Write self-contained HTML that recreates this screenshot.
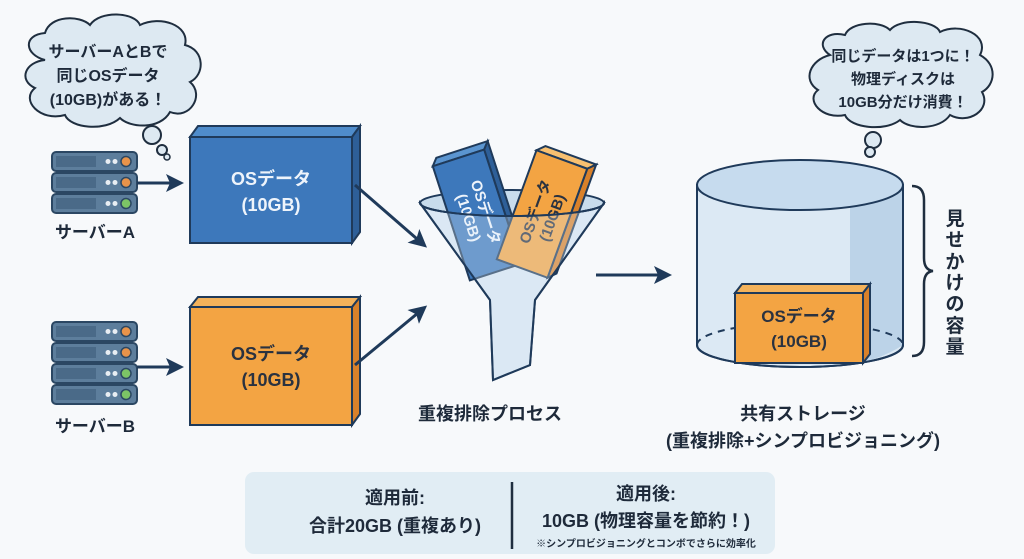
<!DOCTYPE html>
<html><head><meta charset="utf-8"><style>
html,body{margin:0;padding:0;background:#f7f9fb;}
svg{display:block;}
text{font-family:"Liberation Sans","Noto Sans CJK JP",sans-serif;font-weight:bold;fill:#1e2a3a;}
</style></head><body>
<svg width="1024" height="559" viewBox="0 0 1024 559" xmlns="http://www.w3.org/2000/svg">
<defs>
<marker id="ah2" markerWidth="18" markerHeight="18" refX="14" refY="9" orient="auto" markerUnits="userSpaceOnUse">
<path d="M0,0 L18,9 L0,18 L4,9 Z" fill="#1f3a5a"/></marker>
<g id="unit">
<rect x="0" y="0" width="85" height="19" rx="4" fill="#5d7e9c" stroke="#2b4763" stroke-width="2"/>
<rect x="4" y="4" width="40" height="11" fill="#4a6a88"/>
<circle cx="56" cy="9.5" r="2.5" fill="#e9eef3"/><circle cx="63" cy="9.5" r="2.5" fill="#e9eef3"/>
</g>
</defs>
<rect width="1024" height="559" fill="#f7f9fb"/>

<!-- left cloud -->
<path d="M45,60 C25,55 22,35 45,33 C50,15 80,15 90,25 C100,10 135,12 140,25 C160,15 190,25 185,45 C205,50 205,75 190,82 C205,95 190,120 170,112 C160,130 130,128 120,118 C105,132 70,128 65,115 C40,122 20,100 35,88 C18,80 25,62 45,60 Z" fill="#dde9f2" stroke="#1f2e3f" stroke-width="2"/>
<circle cx="152" cy="135" r="9" fill="#dde9f2" stroke="#1f2e3f" stroke-width="2"/>
<circle cx="162" cy="150" r="5" fill="#dde9f2" stroke="#1f2e3f" stroke-width="2"/>
<circle cx="167" cy="157" r="3" fill="#dde9f2" stroke="#1f2e3f" stroke-width="1.5"/>
<text x="108" y="57" font-size="16" text-anchor="middle">サーバーAとBで</text>
<text x="108" y="81" font-size="16" text-anchor="middle">同じOSデータ</text>
<text x="108" y="105" font-size="16" text-anchor="middle">(10GB)がある！</text>

<!-- server A -->
<use href="#unit" x="52" y="152"/><circle cx="126" cy="161.5" r="5" fill="#e8934a" stroke="#2b4763" stroke-width="1.5"/>
<use href="#unit" x="52" y="173"/><circle cx="126" cy="182.5" r="5" fill="#e8934a" stroke="#2b4763" stroke-width="1.5"/>
<use href="#unit" x="52" y="194"/><circle cx="126" cy="203.5" r="5" fill="#7cc466" stroke="#2b4763" stroke-width="1.5"/>
<text x="95" y="238" font-size="17" text-anchor="middle">サーバーA</text>
<line x1="137" y1="183" x2="180" y2="183" stroke="#1f3a5a" stroke-width="3" marker-end="url(#ah2)"/>

<!-- blue box -->
<path d="M190,137 L198,126 L360,126 L352,137 Z" fill="#4f8ccb" stroke="#1f3a5a" stroke-width="2"/>
<path d="M352,137 L360,126 L360,232 L352,243 Z" fill="#2e5f98" stroke="#1f3a5a" stroke-width="2"/>
<rect x="190" y="137" width="162" height="106" fill="#3d78bb" stroke="#1f3a5a" stroke-width="2"/>
<text x="271" y="185" font-size="18" text-anchor="middle" style="fill:#eef4fb">OSデータ</text>
<text x="271" y="211" font-size="18" text-anchor="middle" style="fill:#eef4fb">(10GB)</text>

<!-- server B -->
<use href="#unit" x="52" y="322"/><circle cx="126" cy="331.5" r="5" fill="#e8934a" stroke="#2b4763" stroke-width="1.5"/>
<use href="#unit" x="52" y="343"/><circle cx="126" cy="352.5" r="5" fill="#e8934a" stroke="#2b4763" stroke-width="1.5"/>
<use href="#unit" x="52" y="364"/><circle cx="126" cy="373.5" r="5" fill="#7cc466" stroke="#2b4763" stroke-width="1.5"/>
<use href="#unit" x="52" y="385"/><circle cx="126" cy="394.5" r="5" fill="#7cc466" stroke="#2b4763" stroke-width="1.5"/>
<text x="95" y="432" font-size="17" text-anchor="middle">サーバーB</text>
<line x1="137" y1="367" x2="180" y2="367" stroke="#1f3a5a" stroke-width="3" marker-end="url(#ah2)"/>

<!-- orange box -->
<path d="M190,307 L198,297 L360,297 L352,307 Z" fill="#f4b25a" stroke="#1f3a5a" stroke-width="2"/>
<path d="M352,307 L360,297 L360,414 L352,425 Z" fill="#d9812a" stroke="#1f3a5a" stroke-width="2"/>
<rect x="190" y="307" width="162" height="118" fill="#f3a443" stroke="#1f3a5a" stroke-width="2"/>
<text x="271" y="360" font-size="18" text-anchor="middle" style="fill:#2a3240">OSデータ</text>
<text x="271" y="386" font-size="18" text-anchor="middle" style="fill:#2a3240">(10GB)</text>

<!-- arrows to funnel -->
<line x1="355" y1="185" x2="424" y2="245" stroke="#1f3a5a" stroke-width="3" marker-end="url(#ah2)"/>
<line x1="355" y1="365" x2="424" y2="308" stroke="#1f3a5a" stroke-width="3" marker-end="url(#ah2)"/>

<!-- funnel back -->
<path d="M420,203 L490,300 L493,380 L530,365 L535,300 L604,203 Z" fill="#d5e5f2" stroke="#1f3a5a" stroke-width="2" opacity="0.9"/>
<ellipse cx="512" cy="203" rx="92" ry="13" fill="#c8dcec" stroke="#1f3a5a" stroke-width="2"/>

<!-- blocks in funnel -->
<g transform="translate(477,215) rotate(-18)">
<path d="M-27,-60 L-21,-67 L33,-67 L27,-60 Z" fill="#5b95d0" stroke="#1f3a5a" stroke-width="2"/>
<path d="M27,-60 L33,-67 L33,53 L27,60 Z" fill="#2e5f98" stroke="#1f3a5a" stroke-width="2"/>
<rect x="-27" y="-60" width="54" height="120" fill="#3d78bb" stroke="#1f3a5a" stroke-width="2"/>
<text transform="rotate(90)" x="0" y="-4" font-size="15" text-anchor="middle" style="fill:#eef4fb">OSデータ</text>
<text transform="rotate(90)" x="0" y="14" font-size="15" text-anchor="middle" style="fill:#eef4fb">(10GB)</text>
</g>
<g transform="translate(542,214) rotate(20)">
<path d="M-27,-58 L-20,-65 L34,-65 L27,-58 Z" fill="#f8c070" stroke="#1f3a5a" stroke-width="2"/>
<path d="M27,-58 L34,-65 L34,51 L27,58 Z" fill="#d9812a" stroke="#1f3a5a" stroke-width="2"/>
<rect x="-27" y="-58" width="54" height="116" fill="#f3a443" stroke="#1f3a5a" stroke-width="2"/>
<text transform="rotate(-90)" x="0" y="-2" font-size="15" text-anchor="middle" style="fill:#2a3240">OSデータ</text>
<text transform="rotate(-90)" x="0" y="16" font-size="15" text-anchor="middle" style="fill:#2a3240">(10GB)</text>
</g>
<!-- funnel front -->
<path d="M420,203 L490,300 L493,380 L530,365 L535,300 L604,203 A92,13 0 0 1 420,203 Z" fill="#e2eef8" fill-opacity="0.3" stroke="#1f3a5a" stroke-width="2"/>
<path d="M420,203 A92,13 0 0 0 604,203" fill="none" stroke="#1f3a5a" stroke-width="2"/>
<text x="490" y="420" font-size="18" text-anchor="middle">重複排除プロセス</text>

<!-- arrow right -->
<line x1="596" y1="275" x2="668" y2="275" stroke="#1f3a5a" stroke-width="3" marker-end="url(#ah2)"/>

<!-- cylinder -->
<path d="M697,185 L697,345 A103,22 0 0 0 903,345 L903,185 Z" fill="#dce9f4" stroke="#1f3a5a" stroke-width="2"/>
<path d="M850,200 L903,185 L903,345 Q880,360 850,365 Z" fill="#bcd3e8"/>
<path d="M697,185 L697,345 A103,22 0 0 0 903,345 L903,185" fill="none" stroke="#1f3a5a" stroke-width="2"/>
<ellipse cx="800" cy="185" rx="103" ry="25" fill="#c6dbee" stroke="#1f3a5a" stroke-width="2"/>
<path d="M697,345 A103,22 0 0 1 903,345" fill="none" stroke="#1f3a5a" stroke-width="2" stroke-dasharray="7,6"/>
<!-- inner box -->
<path d="M735,293 L742,284 L870,284 L863,293 Z" fill="#f4b25a" stroke="#1f3a5a" stroke-width="2"/>
<path d="M863,293 L870,284 L870,354 L863,363 Z" fill="#d9812a" stroke="#1f3a5a" stroke-width="2"/>
<rect x="735" y="293" width="128" height="70" fill="#f3a443" stroke="#1f3a5a" stroke-width="2"/>
<text x="799" y="322" font-size="17" text-anchor="middle" style="fill:#2a3240">OSデータ</text>
<text x="799" y="347" font-size="17" text-anchor="middle" style="fill:#2a3240">(10GB)</text>

<!-- brace -->
<path d="M912,186 Q924,186 924,200 L924,258 Q924,270 933,271 Q924,272 924,284 L924,342 Q924,356 912,356" fill="none" stroke="#1f2e3f" stroke-width="2.5"/>
<text font-size="19" text-anchor="middle">
<tspan x="955" y="225">見</tspan><tspan x="955" y="246">せ</tspan><tspan x="955" y="268">か</tspan><tspan x="955" y="289">け</tspan><tspan x="955" y="310">の</tspan><tspan x="955" y="332">容</tspan><tspan x="955" y="353">量</tspan>
</text>

<!-- right cloud -->
<path d="M830,55 C815,45 825,30 845,35 C850,22 880,20 890,30 C900,18 935,20 940,32 C960,22 990,35 980,55 C998,65 995,85 982,92 C992,110 968,125 950,115 C940,130 910,130 900,120 C885,132 850,128 845,115 C822,120 805,100 818,90 C802,80 810,60 830,55 Z" fill="#dde9f2" stroke="#1f2e3f" stroke-width="2"/>
<circle cx="873" cy="140" r="8" fill="#dde9f2" stroke="#1f2e3f" stroke-width="2"/>
<circle cx="870" cy="152" r="5" fill="#dde9f2" stroke="#1f2e3f" stroke-width="2"/>
<text x="903" y="61" font-size="15" text-anchor="middle">同じデータは1つに！</text>
<text x="903" y="84" font-size="15" text-anchor="middle">物理ディスクは</text>
<text x="903" y="107" font-size="15" text-anchor="middle">10GB分だけ消費！</text>

<text x="803" y="420" font-size="18" text-anchor="middle">共有ストレージ</text>
<text x="803" y="447" font-size="18" text-anchor="middle">(重複排除+シンプロビジョニング)</text>

<!-- bottom panel -->
<rect x="245" y="472" width="530" height="82" rx="9" fill="#e1edf4"/>
<line x1="512" y1="482" x2="512" y2="549" stroke="#1f2e3f" stroke-width="2.5"/>
<text x="395" y="504" font-size="18" text-anchor="middle">適用前:</text>
<text x="395" y="532" font-size="18" text-anchor="middle">合計20GB (重複あり)</text>
<text x="646" y="500" font-size="18" text-anchor="middle">適用後:</text>
<text x="646" y="527" font-size="18" text-anchor="middle">10GB (物理容量を節約！)</text>
<text x="646" y="547" font-size="10" text-anchor="middle" font-weight="normal">※シンプロビジョニングとコンボでさらに効率化</text>
</svg>
</body></html>
